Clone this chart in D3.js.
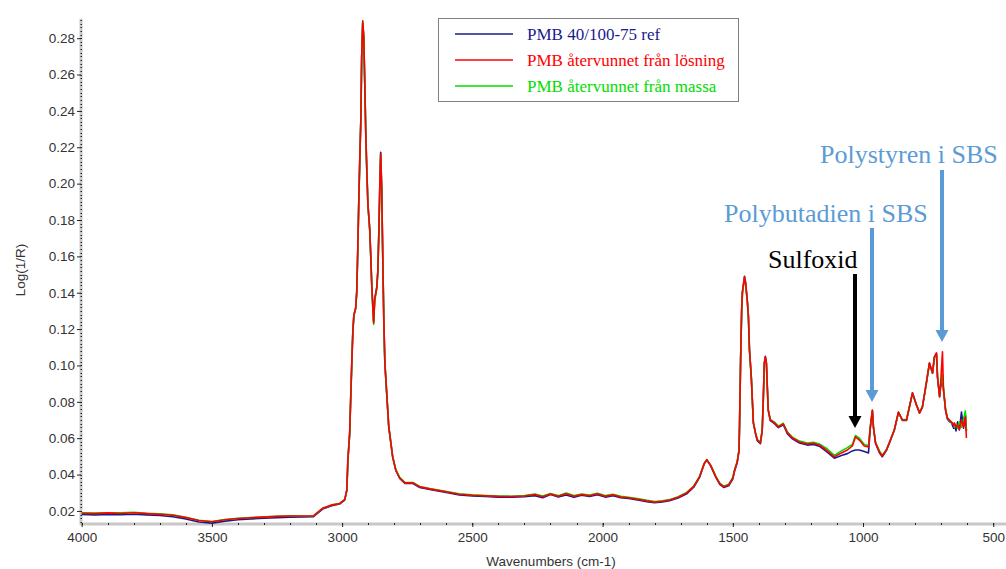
<!DOCTYPE html>
<html><head><meta charset="utf-8">
<script src="https://cdn.jsdelivr.net/npm/d3@7"></script>
<style>body{margin:0;background:#fff}svg{display:block}</style>
</head><body>
<svg id="c" width="1006" height="569"></svg>
<script>
const wavenumbers = [4000,3950,3900,3850,3800,3750,3700,3650,3600,3550,3500,3450,3400,3350,3300,3250,3200,3150,3110,
3075,3040,3010,2990,2982,2978,2971,2967,2963,2959,2955,2948,2944,2940,2936,2932,2928,2925,2921,2917,2913,2909,2905,2901,
2894,2890,2886,2882,2879,2875,2867,2863,2859,2855,2852,2848,2844,2840,2836,2829,2825,2821,2813,2806,2794,2779,2759,2728,2702,2664,
2600,2550,2500,2450,2400,2350,2300,2260,2230,2200,2170,2140,2110,2080,2050,2020,1990,1960,1930,1900,1860,1830,1800,1770,1743,1710,
1677,1650,1628,1610,1600,1585,1565,1550,1535,1516,1500,1493,1483,1476,1474,1470,1466,1463,1455,1451,1444,1440,1436,1429,1425,1421,
1413,1406,1394,1387,1383,1379,1375,1371,1367,1364,1356,1340,1325,1306,1290,1271,1244,1214,1190,1168,1141,1110,1083,1060,1041,1029,
1014,995,979,972,964,960,952,937,926,910,899,880,864,849,833,822,810,795,783,772,757,745,733,726,718,714,706,702,695,691,683,676,
668,660,652,649,643,637,630,622,614,607,603];

const seriesRef = [0.0180,0.0178,0.0181,0.0179,0.0182,0.0178,0.0175,0.0168,0.0156,0.0139,0.0133,0.0144,0.0151,0.0156,0.0160,0.0163,0.0166,0.0167,0.0168,
0.0210,0.0229,0.0238,0.0260,0.0312,0.0476,0.0626,0.0822,0.1010,0.1180,0.1274,0.1313,0.1400,0.1630,0.1906,0.2145,0.2358,0.2692,0.2880,0.2812,0.2550,0.2262,0.2064,0.1888,
0.1750,0.1600,0.1436,0.1320,0.1240,0.1366,0.1432,0.1520,0.1736,0.2020,0.2172,0.1972,0.1598,0.1256,0.1018,0.0852,0.0758,0.0664,0.0575,0.0496,0.0423,0.0379,0.0351,0.0351,0.0329,0.0318,
0.0301,0.0288,0.0282,0.0279,0.0276,0.0275,0.0278,0.0284,0.0272,0.0290,0.0276,0.0288,0.0275,0.0286,0.0279,0.0289,0.0276,0.0284,0.0272,0.0268,0.0259,0.0251,0.0245,0.0249,0.0256,0.0271,
0.0294,0.0330,0.0383,0.0457,0.0480,0.0448,0.0384,0.0346,0.0329,0.0338,0.0375,0.0420,0.0465,0.0530,0.0680,0.1028,0.1302,0.1402,0.1490,0.1458,0.1352,0.1270,0.1088,0.0938,0.0810,0.0684,
0.0626,0.0586,0.0570,0.0642,0.0808,0.1012,0.1050,0.1016,0.0866,0.0754,0.0697,0.0680,0.0658,0.0674,0.0624,0.0596,0.0573,0.0562,0.0566,0.0556,0.0527,0.0490,0.0505,0.0515,0.0530,0.0535,
0.0535,0.0527,0.0519,0.0655,0.0750,0.0660,0.0572,0.0520,0.0498,0.0533,0.0572,0.0642,0.0742,0.0698,0.0698,0.0770,0.0850,0.0784,0.0738,0.0770,0.0900,0.1012,0.0957,0.1045,0.1066,0.0935,0.0828,0.0880,0.0920,0.0870,0.0752,0.0705,
0.0690,0.0684,0.0655,0.0672,0.0640,0.0690,0.0645,0.0744,0.0655,0.0730,0.0640];

const seriesSolution = [0.0187,0.0185,0.0189,0.0186,0.0190,0.0185,0.0181,0.0176,0.0163,0.0147,0.0140,0.0151,0.0158,0.0162,0.0166,0.0170,0.0172,0.0172,0.0173,
0.0214,0.0232,0.0240,0.0262,0.0315,0.0480,0.0629,0.0827,0.1014,0.1185,0.1278,0.1317,0.1405,0.1636,0.1911,0.2150,0.2362,0.2698,0.2895,0.2808,0.2544,0.2258,0.2060,0.1884,
0.1746,0.1597,0.1432,0.1317,0.1234,0.1361,0.1427,0.1515,0.1730,0.2010,0.2164,0.1966,0.1592,0.1251,0.1014,0.0849,0.0755,0.0662,0.0574,0.0497,0.0425,0.0381,0.0354,0.0354,0.0332,0.0321,
0.0305,0.0292,0.0286,0.0283,0.0280,0.0279,0.0282,0.0290,0.0278,0.0293,0.0280,0.0295,0.0281,0.0290,0.0283,0.0294,0.0280,0.0289,0.0276,0.0272,0.0263,0.0255,0.0249,0.0253,0.0260,0.0275,
0.0299,0.0335,0.0387,0.0460,0.0482,0.0450,0.0387,0.0350,0.0333,0.0343,0.0380,0.0425,0.0470,0.0535,0.0684,0.1031,0.1306,0.1405,0.1487,0.1454,0.1350,0.1267,0.1086,0.0937,0.0810,0.0684,
0.0629,0.0590,0.0574,0.0645,0.0810,0.1014,0.1047,0.1014,0.0865,0.0755,0.0700,0.0684,0.0662,0.0678,0.0629,0.0601,0.0579,0.0568,0.0572,0.0563,0.0535,0.0497,0.0519,0.0535,0.0557,0.0607,
0.0590,0.0557,0.0552,0.0662,0.0755,0.0662,0.0574,0.0524,0.0502,0.0535,0.0574,0.0645,0.0744,0.0700,0.0700,0.0772,0.0849,0.0783,0.0739,0.0772,0.0904,0.1014,0.0959,0.1047,0.1069,0.0937,0.0827,0.0900,0.1075,0.0865,0.0755,0.0711,
0.0700,0.0689,0.0670,0.0684,0.0660,0.0673,0.0650,0.0700,0.0662,0.0717,0.0601];

const seriesMass = [0.0190,0.0188,0.0190,0.0189,0.0193,0.0187,0.0184,0.0178,0.0165,0.0149,0.0142,0.0153,0.0160,0.0164,0.0168,0.0171,0.0173,0.0172,0.0173,
0.0215,0.0233,0.0241,0.0263,0.0316,0.0478,0.0627,0.0825,0.1012,0.1182,0.1276,0.1315,0.1402,0.1632,0.1908,0.2146,0.2360,0.2695,0.2890,0.2805,0.2540,0.2255,0.2058,0.1880,
0.1740,0.1590,0.1425,0.1310,0.1225,0.1355,0.1422,0.1510,0.1726,0.2005,0.2158,0.1960,0.1588,0.1248,0.1012,0.0848,0.0755,0.0662,0.0576,0.0500,0.0428,0.0384,0.0357,0.0356,0.0334,0.0323,
0.0307,0.0294,0.0288,0.0285,0.0282,0.0281,0.0285,0.0293,0.0282,0.0296,0.0284,0.0298,0.0285,0.0293,0.0287,0.0297,0.0284,0.0292,0.0280,0.0275,0.0266,0.0258,0.0251,0.0255,0.0262,0.0278,
0.0302,0.0337,0.0389,0.0461,0.0482,0.0452,0.0390,0.0353,0.0336,0.0346,0.0384,0.0428,0.0472,0.0537,0.0682,0.1028,0.1300,0.1400,0.1482,0.1450,0.1346,0.1263,0.1083,0.0935,0.0810,0.0686,
0.0632,0.0594,0.0577,0.0645,0.0806,0.1008,0.1042,0.1010,0.0864,0.0757,0.0703,0.0688,0.0666,0.0682,0.0634,0.0606,0.0584,0.0573,0.0577,0.0568,0.0545,0.0505,0.0530,0.0548,0.0565,0.0615,
0.0600,0.0565,0.0558,0.0664,0.0752,0.0662,0.0578,0.0530,0.0506,0.0538,0.0576,0.0646,0.0740,0.0702,0.0702,0.0770,0.0845,0.0784,0.0742,0.0774,0.0902,0.1010,0.0960,0.1044,0.1064,0.0940,0.0832,0.0890,0.0950,0.0868,0.0758,0.0714,
0.0696,0.0685,0.0680,0.0660,0.0676,0.0655,0.0690,0.0660,0.0705,0.0750,0.0640];

const legendLabels = ["PMB 40/100-75 ref","PMB återvunnet från lösning","PMB återvunnet från massa"];
const seriesColors = ["#1a1a8e","#ff0000","#00dd00"];
const xTickValues = [4000,3500,3000,2500,2000,1500,1000,500];
const yTickValues = [0.02,0.04,0.06,0.08,0.10,0.12,0.14,0.16,0.18,0.20,0.22,0.24,0.26,0.28];
const annotations = [
  {text:"Polystyren i SBS", color:"#5b9bd5", tx:820, ty:163, wn:698, y0:170, y1:342},
  {text:"Polybutadien i SBS", color:"#5b9bd5", tx:724, ty:222, wn:965, y0:228, y1:402},
  {text:"Sulfoxid", color:"#000000", tx:768, ty:268, wn:1030, y0:274, y1:428}
];

const svg = d3.select("#c");
const x = d3.scaleLinear().domain([4000, 451]).range([81.7, 1006]);
const y = d3.scaleLinear().domain([0.0128, 0.290]).range([524, 20]);
const sans = "Liberation Sans, Arial, sans-serif";
const serif = "Liberation Serif, Times New Roman, serif";

svg.append("line").attr("x1",81).attr("x2",81).attr("y1",19).attr("y2",525)
  .attr("stroke","#c8c8c8").attr("stroke-width",3);
svg.append("line").attr("x1",80).attr("x2",1006).attr("y1",524).attr("y2",524)
  .attr("stroke","#c8c8c8").attr("stroke-width",3);

const yMinor = d3.range(0.014, 0.2901, 0.002);
svg.append("g").selectAll("line").data(yMinor).join("line")
  .attr("x1",80.5).attr("x2",82).attr("y1",d=>Math.round(y(d))+0.5).attr("y2",d=>Math.round(y(d))+0.5)
  .attr("stroke","#222").attr("stroke-width",1);
const xMinor = d3.range(4000, 450, -100);
svg.append("g").selectAll("line").data(xMinor).join("line")
  .attr("y1",523).attr("y2",525).attr("x1",d=>Math.round(x(d))+0.5).attr("x2",d=>Math.round(x(d))+0.5)
  .attr("stroke","#222").attr("stroke-width",1);

const yAxis = d3.axisLeft(y).tickValues(yTickValues).tickFormat(d3.format(".2f")).tickSize(4).tickPadding(2);
const gy = svg.append("g").attr("transform","translate(81,0)").call(yAxis);
gy.select(".domain").remove();
gy.selectAll("line").attr("stroke","#222");
gy.selectAll("text").attr("font-family",sans).attr("font-size","13.5px").attr("fill","#333");

const xAxis = d3.axisBottom(x).tickValues(xTickValues).tickFormat(d3.format("d")).tickSize(4).tickPadding(5);
const gx = svg.append("g").attr("transform","translate(0,523)").call(xAxis);
gx.select(".domain").remove();
gx.selectAll("line").attr("stroke","#222");
gx.selectAll("text").attr("font-family",sans).attr("font-size","13.5px").attr("fill","#333");

svg.append("text").attr("x",551).attr("y",566).attr("text-anchor","middle")
  .attr("font-family",sans).attr("font-size","13.5px").attr("fill","#333").text("Wavenumbers (cm-1)");
svg.append("text").attr("transform","translate(25,270) rotate(-90)").attr("text-anchor","middle")
  .attr("font-family",sans).attr("font-size","13.5px").attr("fill","#333").text("Log(1/R)");

const line = d3.line().x((d,i)=>x(wavenumbers[i])).y(d=>y(d));
const drawOrder = [[seriesRef,0],[seriesMass,2],[seriesSolution,1]];
drawOrder.forEach(([s,ci])=>{
  svg.append("path").datum(s).attr("d",line).attr("fill","none")
    .attr("stroke",seriesColors[ci]).attr("stroke-width",1.6).attr("stroke-linejoin","round");
});

const lg = svg.append("g");
lg.append("rect").attr("x",438.5).attr("y",18.5).attr("width",300).attr("height",83)
  .attr("fill","#fff").attr("stroke","#808080");
legendLabels.forEach((t,i)=>{
  const yy = 34 + i*26;
  lg.append("line").attr("x1",455).attr("x2",513).attr("y1",yy).attr("y2",yy)
    .attr("stroke",seriesColors[i]).attr("stroke-width",1.5);
  lg.append("text").attr("x",527).attr("y",yy+5.5).attr("font-family",serif).attr("font-size","17px")
    .attr("fill",seriesColors[i]).text(t);
});

annotations.forEach(a=>{
  const ax = Math.round(x(a.wn));
  svg.append("text").attr("x",a.tx).attr("y",a.ty).attr("font-family",serif)
    .attr("font-size","26px").attr("fill",a.color).text(a.text);
  svg.append("line").attr("x1",ax).attr("x2",ax).attr("y1",a.y0).attr("y2",a.y1-11)
    .attr("stroke",a.color).attr("stroke-width",4);
  svg.append("path").attr("d",`M${ax-6.5},${a.y1-12}L${ax+6.5},${a.y1-12}L${ax},${a.y1}Z`).attr("fill",a.color);
});
</script>
</body></html>
